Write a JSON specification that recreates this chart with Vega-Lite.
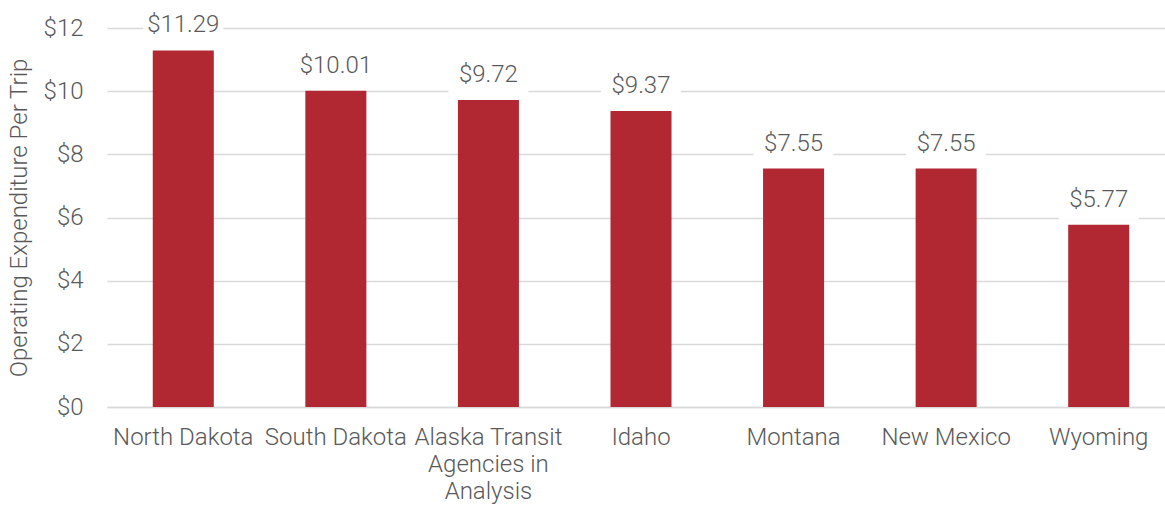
{
  "$schema": "https://vega.github.io/schema/vega-lite/v6.json",
  "width": 1068,
  "height": 379,
  "autosize": "none",
  "padding": {"left": 107, "top": 28, "right": 0, "bottom": 99},
  "background": "white",
  "config": {
    "view": {"stroke": null},
    "font": "Roboto",
    "text": {"font": "Roboto"}
  },
  "data": {
    "values": [
      {"region": "North Dakota", "cost": 11.29},
      {"region": "South Dakota", "cost": 10.01},
      {"region": "Alaska Transit Agencies in Analysis", "cost": 9.72},
      {"region": "Idaho", "cost": 9.37},
      {"region": "Montana", "cost": 7.55},
      {"region": "New Mexico", "cost": 7.55},
      {"region": "Wyoming", "cost": 5.77}
    ]
  },
  "encoding": {
    "x": {
      "field": "region",
      "type": "nominal",
      "sort": null,
      "scale": {"paddingInner": 0.6, "paddingOuter": 0.3},
      "axis": {
        "title": null,
        "labelAngle": 0,
        "ticks": false,
        "domainColor": "#d9d9d9",
        "domainWidth": 1.5,
        "labelFont": "Roboto",
        "labelFontWeight": 300,
        "labelFontSize": 24,
        "labelColor": "#595959",
        "labelPadding": 18,
        "labelLineHeight": 27,
        "labelLimit": 400,
        "labelExpr": "datum.value == 'Alaska Transit Agencies in Analysis' ? ['Alaska Transit', 'Agencies in', 'Analysis'] : datum.label"
      }
    },
    "y": {
      "field": "cost",
      "type": "quantitative",
      "scale": {"domain": [0, 12], "nice": false},
      "axis": {
        "title": "Operating Expenditure Per Trip",
        "values": [0, 2, 4, 6, 8, 10, 12],
        "format": "$.0f",
        "ticks": false,
        "domain": false,
        "grid": true,
        "gridColor": "#d9d9d9",
        "gridWidth": 1.5,
        "labelFont": "Roboto",
        "labelFontWeight": 300,
        "labelFontSize": 24,
        "labelColor": "#595959",
        "labelPadding": 24,
        "titleFont": "Roboto",
        "titleFontWeight": 300,
        "titleFontSize": 24,
        "titleColor": "#595959",
        "titlePadding": 12
      }
    }
  },
  "layer": [
    {"mark": {"type": "bar", "color": "#B12833"}},
    {
      "mark": {
        "type": "tick",
        "color": "white",
        "opacity": 1,
        "size": 80,
        "thickness": 34,
        "yOffset": -22
      }
    },
    {
      "mark": {
        "type": "text",
        "font": "Roboto",
        "fontWeight": 300,
        "fontSize": 24,
        "color": "#595959",
        "align": "center",
        "baseline": "alphabetic",
        "dy": -18
      },
      "encoding": {"text": {"field": "cost", "type": "quantitative", "format": "$.2f"}}
    }
  ]
}
